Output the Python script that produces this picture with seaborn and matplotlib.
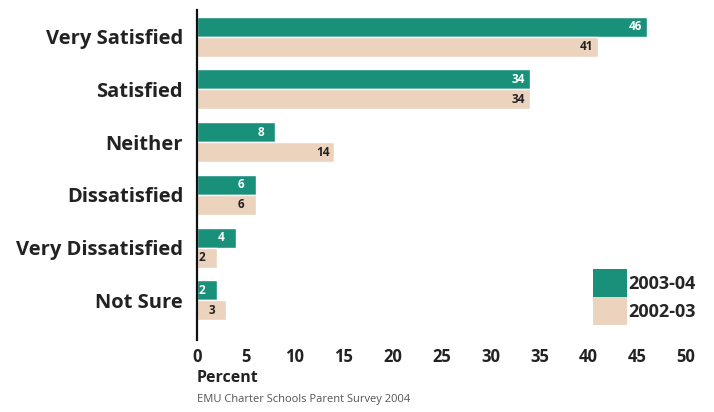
import matplotlib
matplotlib.use("Agg")
import matplotlib.pyplot as plt
import seaborn as sns
import pandas as pd
from matplotlib.patches import Patch

categories = ["Very Satisfied", "Satisfied", "Neither", "Dissatisfied", "Very Dissatisfied", "Not Sure"]
years = ["2003-04", "2002-03"]
values_2003_04 = [46, 34, 8, 6, 4, 2]
values_2002_03 = [41, 34, 14, 6, 2, 3]
x_ticks = [0, 5, 10, 15, 20, 25, 30, 35, 40, 45, 50]

colors = {"2003-04": "#19907a", "2002-03": "#ecd3bd"}

df = pd.DataFrame({
    "Category": categories * 2,
    "Year": [years[0]] * len(categories) + [years[1]] * len(categories),
    "Percent": values_2003_04 + values_2002_03,
})

sns.set_theme(style="white")
plt.rcParams["font.family"] = ["Open Sans", "DejaVu Sans"]

fig = plt.figure(figsize=(7.14, 4.12), dpi=100)
ax = fig.add_axes([0.276, 0.175, 0.685, 0.80])

sns.barplot(data=df, y="Category", x="Percent", hue="Year", order=categories,
            hue_order=years, palette=colors, orient="h", width=0.76,
            saturation=1, ax=ax, legend=False)

for cont, col in zip(ax.containers, ["white", "#222222"]):
    ax.bar_label(cont, labels=[f"{v:g}" for v in cont.datavalues], padding=-13,
                 color=col, fontsize=8.5, fontweight="bold")

ax.set_xlim(0, 50)
ax.set_ylim(5.75, -0.5)
ax.set_xticks(x_ticks)
ax.set_xticklabels([str(t) for t in x_ticks], fontsize=12, fontweight="bold", color="#222222")
ax.set_yticks(range(len(categories)))
ax.set_yticklabels(categories, fontsize=14.5, fontweight="bold", color="#222222")
ax.tick_params(axis="y", length=0, pad=10)
ax.tick_params(axis="x", length=0, pad=6)
for s in ["top", "right", "bottom"]:
    ax.spines[s].set_visible(False)
ax.spines["left"].set_color("#111111")
ax.spines["left"].set_linewidth(1.6)
ax.set_xlabel("")
ax.set_ylabel("")

ax.text(0, -0.115, "Percent", transform=ax.transAxes, fontsize=11.5, fontweight="bold",
        color="#222222", ha="left", va="center")
ax.text(0, -0.18, "EMU Charter Schools Parent Survey 2004", transform=ax.transAxes,
        fontsize=8, color="#555555", ha="left", va="center")

handles = [Patch(facecolor=colors[y], edgecolor="none") for y in years]
ax.legend(handles, years, loc="lower right", bbox_to_anchor=(1.02, 0.045), frameon=False,
          prop={"weight": "bold", "size": 13}, handlelength=1.85, handleheight=2.0,
          labelspacing=0.0, handletextpad=0.1, borderaxespad=0, borderpad=0)

fig.savefig("out.png", dpi=100, facecolor="white")
